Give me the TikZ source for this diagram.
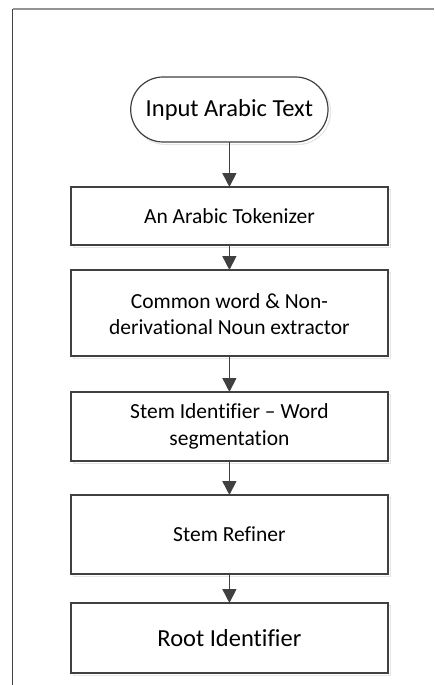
\documentclass[tikz,border=0pt]{standalone}
\usepackage{fontspec}
\setmainfont[Ligatures=NoCommon]{Carlito}
\usetikzlibrary{arrows.meta}
\definecolor{edge}{HTML}{404040}
\definecolor{shade}{HTML}{E6E6E6}
\begin{document}
\begin{tikzpicture}[x=1pt,y=-1pt,
  boxshadow/.style={draw=shade, line width=1.2pt},
  stepbox/.style={draw=edge, line width=1.2pt, fill=white},
  flow/.style={draw=edge, line width=1.6pt, -{Triangle[length=14pt,width=14pt]}},
  lbl/.style={font=\fontsize{21.5}{26.5}\selectfont, align=center, text=black},
  biglbl/.style={font=\fontsize{24.5}{29}\selectfont, align=center, text=black}]
\useasboundingbox (0,0) rectangle (434,685);
% outer frame: top and left edges only
\draw[draw=gray!85, line width=1.6pt] (12.5,9) -- (434,9);
\draw[draw=edge, line width=1.2pt] (12.5,9) -- (12.5,685);

% start terminal
\draw[boxshadow, rounded corners=32.5pt] (133.2,79.5) rectangle (330.5,144.5);
\draw[stepbox, rounded corners=32.5pt] (130.7,77) rectangle (328,142);
\node[biglbl] (start) at (229.4,110) {Input Arabic Text};
\coordinate (startb) at (229.4,142);

% process boxes: top, bottom
\foreach \t/\b/\n in {187/245/b1, 270/356/b2, 392/461/b3, 495/574/b4, 603/673/b5}{
  \draw[boxshadow] (73.5,\t+2.5) rectangle (390.5,\b+2.5);
  \draw[stepbox] (71,\t) rectangle (388,\b);
  \coordinate (\n t) at (229.4,\t);
  \coordinate (\n b) at (229.4,\b);
}
\node[lbl] (tok) at (229.4,216) {An Arabic Tokenizer};
\node[lbl] (cw) at (229.4,314) {Common word \& Non-\\derivational Noun extractor};
\node[lbl] (si) at (229.4,426.5) {Stem Identifier – Word\\segmentation};
\node[lbl] (sr) at (229.4,534.5) {Stem Refiner};
\node[biglbl] (ri) at (229.4,638) {Root Identifier};

% connectors
\draw[flow] (startb) -- (b1t);
\draw[flow] (b1b) -- (b2t);
\draw[flow] (b2b) -- (b3t);
\draw[flow] (b3b) -- (b4t);
\draw[flow] (b4b) -- (b5t);
\end{tikzpicture}
\end{document}
